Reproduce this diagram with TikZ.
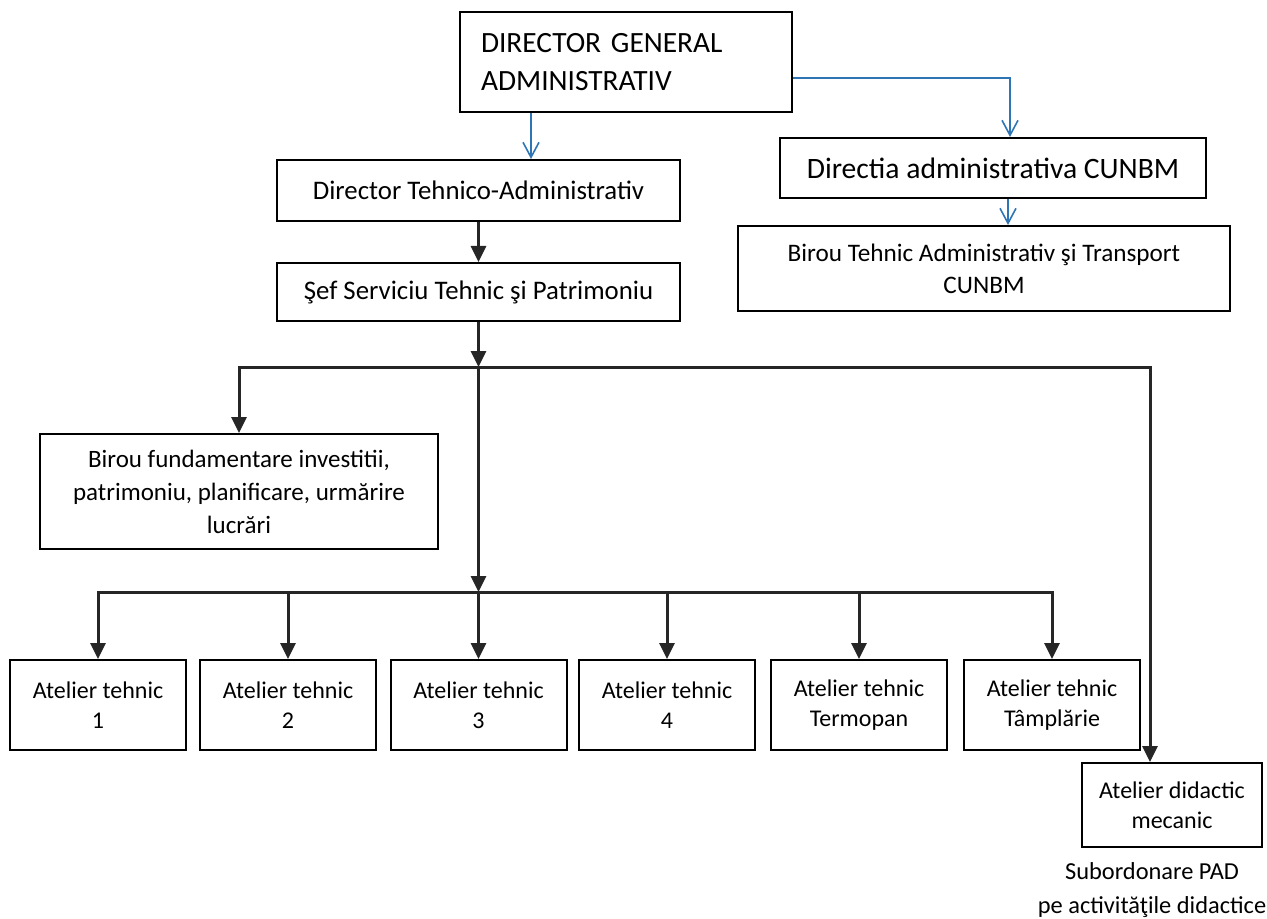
\documentclass[tikz,border=0pt]{standalone}
\usepackage{fontspec}
\setmainfont{Carlito}
\usetikzlibrary{arrows.meta}
\definecolor{linkblue}{RGB}{46,117,182}

\begin{document}
\begin{tikzpicture}[
  x=0.5pt, y=-0.5pt,
  box/.style={draw, line width=1pt, align=center, inner sep=0pt},
  head/.style={box, minimum width=201.5pt, font=\fontsize{13.4}{16}\selectfont},
  atelier/.style={box, minimum width=88pt, minimum height=45pt, font=\fontsize{12}{15}\selectfont},
  blue link/.style={draw=linkblue, line width=0.8pt, -{Straight Barb[length=7.5pt,width=8pt]}},
  black link/.style={draw=black!85, line width=1.5pt, -{Triangle[length=8pt,width=7.5pt]}}
]
  \useasboundingbox (0,0) rectangle (1267,919);

  % Top of the chart
  \node[box, minimum width=166pt, minimum height=50pt, text width=145pt,
        inner xsep=10.5pt, align=left, font=\fontsize{14.7}{19}\selectfont]
        (gen) at (626,62) {DIRECTOR GENERAL\\ADMINISTRATIV};
  \node[head, minimum height=30.5pt] (dirteh) at (478.5,190.5) {Director Tehnico-Administrativ};
  \node[head, minimum height=29pt] (sef) at (478.5,292) {Şef Serviciu Tehnic şi Patrimoniu};
  \node[box, minimum width=213pt, minimum height=30pt, font=\fontsize{14.8}{18}\selectfont]
        (directia) at (993,168) {Directia administrativa CUNBM};
  \node[box, minimum width=246pt, minimum height=42.5pt, font=\fontsize{12.6}{16}\selectfont]
        (birouteh) at (984,268.5) {Birou Tehnic Administrativ şi Transport\\CUNBM};
  \node[box, minimum width=199pt, minimum height=57.5pt, font=\fontsize{12.5}{16.5}\selectfont]
        (fund) at (239,491.5) {Birou fundamentare investitii,\\patrimoniu, planificare, urmărire\\lucrări};

  % Ateliers
  \node[atelier] (at1) at (98,705) {Atelier tehnic\\1};
  \node[atelier] (at2) at (288,705) {Atelier tehnic\\2};
  \node[atelier] (at3) at (478.5,705) {Atelier tehnic\\3};
  \node[atelier] (at4) at (667,705) {Atelier tehnic\\4};
  \node[atelier] (at5) at (859,705) {Atelier tehnic\\Termopan};
  \node[atelier] (at6) at (1052,705) {Atelier tehnic\\Tâmplărie};
  \node[atelier, minimum width=90pt, minimum height=42pt] (didactic) at (1172,805) {Atelier didactic\\mecanic};
  \node[align=center, inner sep=0pt, font=\fontsize{12.2}{17}\selectfont]
        (note) at (1152,890) {Subordonare PAD\\pe activităţile didactice};

  % Blue links
  \coordinate (gdrop) at ([xshift=-47.5pt]gen.south);
  \coordinate (gside) at ([yshift=-8pt]gen.east);
  \coordinate (ddrop) at ([xshift=7.5pt]directia.south);
  \draw[blue link] (gdrop) -- (gdrop |- dirteh.north);
  \draw[blue link] (gside) -| ([xshift=8.5pt]directia.north);
  \draw[blue link] (ddrop) -- (ddrop |- birouteh.north);

  % Black links
  \coordinate (bus1) at (478.5,367);
  \coordinate (bus2) at (478.5,592);
  \draw[black link] (dirteh.south) -- (sef.north);
  \draw[black link] (sef.south) -- (bus1);
  \draw[black link] (bus1) -- (bus2);
  \draw[black link] (bus1) -| (fund.north);
  \draw[black link] (bus1) -| ([xshift=-11pt]didactic.north);
  \draw[black link] (bus2) -| (at1.north);
  \draw[black link] (bus2) -| (at2.north);
  \draw[black link] (bus2) -| (at3.north);
  \draw[black link] (bus2) -| (at4.north);
  \draw[black link] (bus2) -| (at5.north);
  \draw[black link] (bus2) -| (at6.north);

\end{tikzpicture}
\end{document}
